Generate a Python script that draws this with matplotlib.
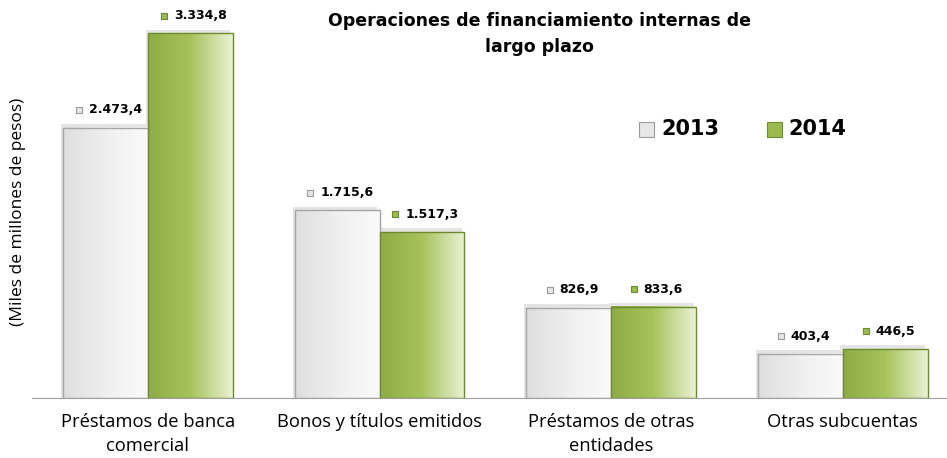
import numpy as np
import matplotlib
matplotlib.use("Agg")
import matplotlib.pyplot as plt
from matplotlib.colors import LinearSegmentedColormap
from matplotlib.transforms import offset_copy

# === Data ===
categories = ["Préstamos de banca\ncomercial", "Bonos y títulos emitidos",
              "Préstamos de otras\nentidades", "Otras subcuentas"]
values_2013 = [2473.4, 1715.6, 826.9, 403.4]
values_2014 = [3334.8, 1517.3, 833.6, 446.5]
labels_2013 = ["2.473,4", "1.715,6", "826,9", "403,4"]
labels_2014 = ["3.334,8", "1.517,3", "833,6", "446,5"]
series_names = ["2013", "2014"]

# === Styles ===
gray_cmap = LinearSegmentedColormap.from_list("g", ["#dedede", "#efefef", "#fafafa"])
green_cmap = LinearSegmentedColormap.from_list("gr", ["#8dac43", "#a7c35c", "#eaf2d4"])
gray_edge = "#a6a6a6"
green_edge = "#6e8a2e"
width = 0.366

fig = plt.figure(figsize=(9.47, 4.58), dpi=100)
ax = fig.add_axes([0.034, 0.131, 0.966, 0.869])

x = np.arange(len(categories))
grad = np.linspace(0, 1, 256).reshape(1, -1)


def draw_bars(xpos, vals, cmap, edge):
    for xi, v in zip(xpos, vals):
        left = xi - width / 2
        # soft shadow behind the bar
        ax.bar(xi - 0.01, v + 35, width=width, color="#c4c4c4", alpha=0.45,
               edgecolor="none", zorder=1)
        ax.imshow(grad, cmap=cmap, aspect="auto", interpolation="bicubic",
                  extent=(left, left + width, 0, v), zorder=2)
        ax.bar(xi, v, width=width, facecolor="none", edgecolor=edge,
               linewidth=1.0, zorder=3)


draw_bars(x - width / 2, values_2013, gray_cmap, gray_edge)
draw_bars(x + width / 2, values_2014, green_cmap, green_edge)
ax.set_xlim(-0.5, 3.45)
ax.set_ylim(0, 3640)


def value_labels(xpos, vals, labels, face, edge):
    for xi, v, lab in zip(xpos, vals, labels):
        ax.annotate(lab, (xi, v), xytext=(7, 8), textcoords="offset points",
                    ha="center", va="bottom", fontsize=9, fontweight="bold",
                    color="black", zorder=5)
        tw = len(lab) * 2.75
        tr = offset_copy(ax.transData, fig=fig, x=7 - tw - 7, y=12.8, units="points")
        ax.scatter([xi], [v], marker="s", s=22, color=face, edgecolor=edge,
                   linewidth=0.8, transform=tr, zorder=5, clip_on=False)


value_labels(x - width / 2, values_2013, labels_2013, "#e6e6e6", "#9a9a9a")
value_labels(x + width / 2, values_2014, labels_2014, "#9bbb50", "#6e8a2e")

# === Axes styling ===
for s in ["top", "right", "left"]:
    ax.spines[s].set_visible(False)
ax.spines["bottom"].set_color("#a0a0a0")
ax.set_yticks([])
ax.set_xticks(x)
ax.set_xticklabels(categories, fontsize=13.2, family="Open Sans", linespacing=1.4)
ax.tick_params(axis="x", length=0, pad=11)

fig.text(0.019, 0.537, "(Miles de millones de pesos)", rotation=90, ha="center",
         va="center", fontsize=12.5, family="Open Sans")

fig.text(0.57, 0.926, "Operaciones de financiamiento internas de\nlargo plazo",
         ha="center", va="center", fontsize=12.5, fontweight="bold",
         linespacing=1.6)

# === Legend (manual) ===
leg_y = 0.718
for lx, name, face, edge in [(0.675, series_names[0], "#e6e6e6", "#9a9a9a"),
                             (0.810, series_names[1], "#9bbb50", "#6e8a2e")]:
    fig.patches.append(plt.Rectangle((lx, leg_y - 0.017), 0.0158, 0.033,
                                     transform=fig.transFigure, facecolor=face,
                                     edgecolor=edge, linewidth=0.8))
    fig.text(lx + 0.023, leg_y, name, ha="left", va="center", fontsize=15,
             fontweight="bold")

fig.savefig("out.png", dpi=100)
